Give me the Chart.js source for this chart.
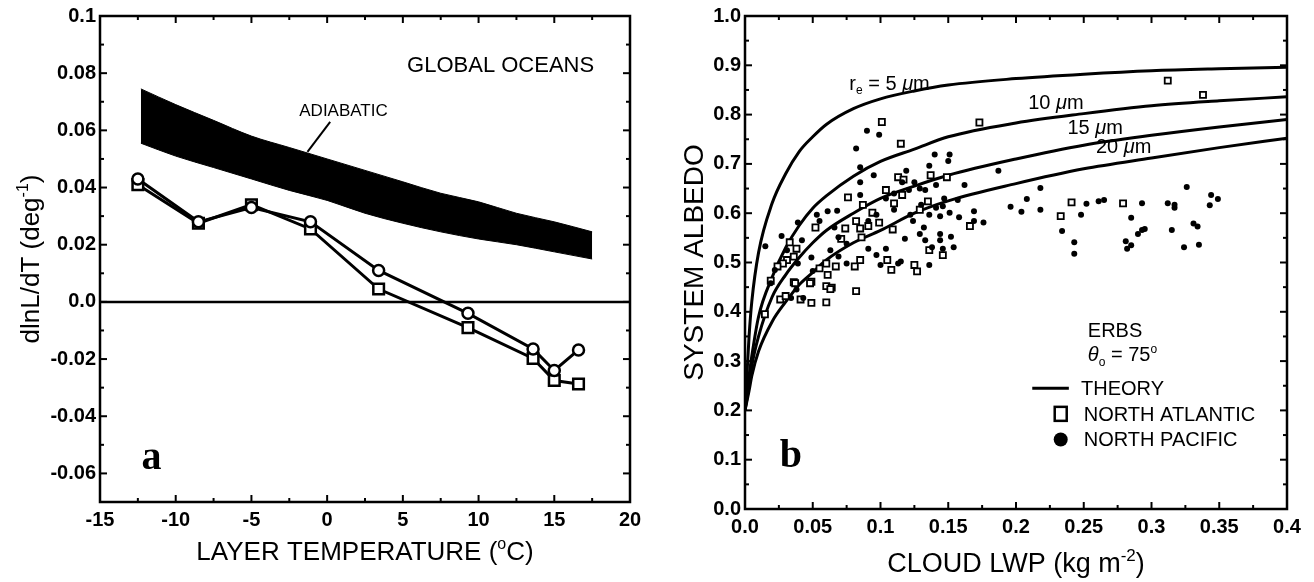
<!DOCTYPE html>
<html>
<head>
<meta charset="utf-8">
<script src="https://cdn.jsdelivr.net/npm/chart.js@4.4.0/dist/chart.umd.min.js"></script>
<style>
  html, body { margin: 0; padding: 0; background: #fff; }
  #wrap { position: relative; width: 1314px; height: 582px; overflow: hidden; }
  .panel { position: absolute; top: 0; width: 657px; height: 582px; }
</style>
</head>
<body>
<div id="wrap">
  <div class="panel" style="left:0"><canvas id="chartA" width="657" height="582"></canvas></div>
  <div class="panel" style="left:657px"><canvas id="chartB" width="657" height="582"></canvas></div>
</div>
<script>
// ---------- panel a : dlnL/dT vs layer temperature ----------
const tempPts     = [-12.5, -8.5, -5.0, -1.1, 3.4, 9.3, 13.6, 15.0, 16.6];
const dlnCircles  = [0.043, 0.028, 0.033, 0.028, 0.011, -0.004, -0.0165, -0.024, -0.0168];
const dlnSquares  = [0.041, 0.0275, 0.034, 0.0255, 0.0045, -0.009, -0.0198, -0.0275, -0.0287];

const adiabaticT     = [-12.3, -10, -7.5, -5, -2.5, 0, 2.5, 5, 7.5, 10, 12.5, 15, 17.5];
const adiabaticUpper = [0.0745, 0.069, 0.0635, 0.058, 0.054, 0.050, 0.046, 0.042, 0.038, 0.035, 0.031, 0.028, 0.0245];
const adiabaticLower = [0.0555, 0.051, 0.047, 0.043, 0.039, 0.0355, 0.031, 0.0275, 0.0245, 0.022, 0.020, 0.0175, 0.015];

const xTicksA      = [-15, -10, -5, 0, 5, 10, 15, 20];
const xMinorA      = [-12.5, -7.5, -2.5, 2.5, 7.5, 12.5, 17.5];
const yTicksA      = [-0.06, -0.04, -0.02, 0, 0.02, 0.04, 0.06, 0.08, 0.1];
const yTickLabelsA = ['-0.06', '-0.04', '-0.02', '0.0', '0.02', '0.04', '0.06', '0.08', '0.1'];
const yMinorA      = [-0.05, -0.03, -0.01, 0.01, 0.03, 0.05, 0.07, 0.09];

// ---------- panel b : system albedo vs cloud LWP ----------
const lwpTheory = [0, 0.003, 0.005, 0.01, 0.02, 0.03, 0.04, 0.05, 0.06, 0.08, 0.1, 0.125, 0.15, 0.2, 0.25, 0.3, 0.35, 0.4];
const albedoR5  = [0.2, 0.35, 0.42, 0.52, 0.62, 0.68, 0.725, 0.755, 0.78, 0.812, 0.832, 0.848, 0.86, 0.873, 0.882, 0.889, 0.893, 0.896];
const albedoR10 = [0.2, 0.27, 0.31, 0.39, 0.47, 0.53, 0.575, 0.61, 0.635, 0.675, 0.705, 0.73, 0.755, 0.783, 0.802, 0.818, 0.828, 0.836];
const albedoR15 = [0.2, 0.25, 0.29, 0.35, 0.43, 0.475, 0.51, 0.54, 0.565, 0.60, 0.63, 0.655, 0.677, 0.71, 0.738, 0.758, 0.775, 0.79];
const albedoR20 = [0.2, 0.24, 0.27, 0.32, 0.38, 0.42, 0.455, 0.48, 0.505, 0.54, 0.565, 0.60, 0.625, 0.66, 0.69, 0.712, 0.733, 0.752];

const atlanticLwp = [0.312, 0.338, 0.101, 0.173, 0.115, 0.076, 0.104, 0.113, 0.117, 0.137, 0.149, 0.087, 0.094, 0.110, 0.116,
  0.129, 0.135, 0.052, 0.074, 0.082, 0.085, 0.091, 0.099, 0.109, 0.071, 0.086, 0.033, 0.038, 0.036, 0.031, 0.028, 0.024,
  0.019, 0.055, 0.060, 0.067, 0.081, 0.085, 0.049, 0.061, 0.060, 0.064, 0.036, 0.105, 0.108, 0.125, 0.127, 0.136, 0.146,
  0.166, 0.233, 0.241, 0.279, 0.082, 0.0147, 0.026, 0.049, 0.060, 0.063, 0.037, 0.048, 0.041, 0.030];
const atlanticAlbedo = [0.869, 0.840, 0.785, 0.784, 0.741, 0.632, 0.647, 0.673, 0.668, 0.677, 0.673, 0.617, 0.601, 0.620, 0.637,
  0.607, 0.624, 0.571, 0.569, 0.584, 0.569, 0.574, 0.581, 0.567, 0.548, 0.551, 0.541, 0.528, 0.512, 0.505, 0.498, 0.492,
  0.463, 0.488, 0.498, 0.492, 0.492, 0.505, 0.461, 0.475, 0.452, 0.449, 0.460, 0.505, 0.485, 0.495, 0.482, 0.525, 0.515,
  0.574, 0.594, 0.622, 0.620, 0.442, 0.395, 0.425, 0.418, 0.419, 0.446, 0.458, 0.458, 0.425, 0.432];

const pacificLwp = [0.015, 0.082, 0.090, 0.099, 0.085, 0.085, 0.095, 0.119, 0.140, 0.151, 0.150, 0.162, 0.187, 0.218, 0.208,
  0.196, 0.204, 0.218, 0.136, 0.125, 0.129, 0.141, 0.133, 0.147, 0.157, 0.158, 0.169, 0.169, 0.176, 0.151, 0.144, 0.116,
  0.104, 0.097, 0.091, 0.068, 0.061, 0.055, 0.042, 0.049, 0.063, 0.066, 0.069, 0.075, 0.091, 0.097, 0.104, 0.115, 0.118,
  0.124, 0.129, 0.132, 0.133, 0.138, 0.144, 0.144, 0.146, 0.152, 0.154, 0.100, 0.113, 0.136, 0.234, 0.243, 0.243, 0.248,
  0.252, 0.261, 0.265, 0.281, 0.282, 0.285, 0.285, 0.290, 0.293, 0.295, 0.293, 0.312, 0.317, 0.317, 0.315, 0.324, 0.326,
  0.331, 0.334, 0.335, 0.343, 0.344, 0.349, 0.027, 0.039, 0.053, 0.031, 0.039, 0.022, 0.050, 0.069, 0.075, 0.085, 0.110,
  0.121, 0.130, 0.146, 0.141, 0.136, 0.122, 0.110, 0.019, 0.034, 0.038, 0.043];
const pacificAlbedo = [0.533, 0.731, 0.767, 0.759, 0.693, 0.663, 0.677, 0.686, 0.719, 0.719, 0.706, 0.657, 0.686, 0.651, 0.629,
  0.613, 0.603, 0.607, 0.696, 0.663, 0.650, 0.657, 0.647, 0.630, 0.627, 0.592, 0.604, 0.584, 0.581, 0.601, 0.594, 0.663,
  0.630, 0.597, 0.584, 0.605, 0.604, 0.584, 0.545, 0.510, 0.525, 0.571, 0.551, 0.538, 0.528, 0.515, 0.528, 0.502, 0.548,
  0.584, 0.558, 0.571, 0.545, 0.531, 0.558, 0.545, 0.528, 0.552, 0.531, 0.495, 0.498, 0.495, 0.564, 0.541, 0.518, 0.597,
  0.619, 0.624, 0.627, 0.543, 0.528, 0.535, 0.591, 0.558, 0.566, 0.568, 0.620, 0.620, 0.617, 0.611, 0.566, 0.531, 0.653,
  0.579, 0.573, 0.536, 0.616, 0.637, 0.629, 0.554, 0.581, 0.597, 0.525, 0.498, 0.485, 0.483, 0.512, 0.498, 0.637, 0.640,
  0.647, 0.617, 0.614, 0.611, 0.597, 0.597, 0.607, 0.458, 0.428, 0.445, 0.428];

const xTicksB      = [0, 0.05, 0.1, 0.15, 0.2, 0.25, 0.3, 0.35, 0.4];
const xTickLabelsB = ['0.0', '0.05', '0.1', '0.15', '0.2', '0.25', '0.3', '0.35', '0.4'];
const xMinorB      = [0.025, 0.075, 0.125, 0.175, 0.225, 0.275, 0.325, 0.375];
const yTicksB      = [0, 0.1, 0.2, 0.3, 0.4, 0.5, 0.6, 0.7, 0.8, 0.9, 1.0];
const yTickLabelsB = ['0.0', '0.1', '0.2', '0.3', '0.4', '0.5', '0.6', '0.7', '0.8', '0.9', '1.0'];
const yMinorB      = [0.05, 0.15, 0.25, 0.35, 0.45, 0.55, 0.65, 0.75, 0.85, 0.95];


const FAM   = '"Liberation Sans", Arial, Helvetica, sans-serif';
const SERIF = '"Liberation Serif", "Times New Roman", serif';
Chart.defaults.font.family = FAM;
Chart.defaults.color = '#000';

const pts = (xs, ys) => xs.map((x, i) => ({ x, y: ys[i] }));

// texto con sub/superíndices: parts = [[texto, modo]], modo '' | 'sup' | 'sub' | 'it'
function richText(ctx, parts, x, y, size, align) {
    const fontFor = m => (m === 'it' ? 'italic ' : '') + Math.round(m === 'sup' || m === 'sub' ? size * 0.62 : size) + 'px ' + FAM;
    let w = 0;
    parts.forEach(([t, m]) => { ctx.font = fontFor(m); w += ctx.measureText(t).width; });
    let cx = align === 'center' ? x - w / 2 : x;
    ctx.textAlign = 'left';
    ctx.textBaseline = 'alphabetic';
    parts.forEach(([t, m]) => {
        ctx.font = fontFor(m);
        const dy = m === 'sup' ? -size * 0.42 : (m === 'sub' ? size * 0.22 : 0);
        ctx.fillText(t, cx, y + dy);
        cx += ctx.measureText(t).width;
    });
}

function line(ctx, x1, y1, x2, y2) {
    ctx.beginPath(); ctx.moveTo(x1, y1); ctx.lineTo(x2, y2); ctx.stroke();
}

// marco con marcas hacia adentro en los cuatro lados
const framePlugin = {
    id: 'frame',
    afterDraw(chart, args, opts) {
        const { ctx, chartArea: a, scales: { x, y } } = chart;
        ctx.save();
        ctx.strokeStyle = '#000';
        ctx.lineWidth = 2;
        const major = 7, minor = 4;
        opts.xMajor.forEach(v => { const p = x.getPixelForValue(v); line(ctx, p, a.bottom, p, a.bottom - major); line(ctx, p, a.top, p, a.top + major); });
        opts.xMinor.forEach(v => { const p = x.getPixelForValue(v); line(ctx, p, a.bottom, p, a.bottom - minor); line(ctx, p, a.top, p, a.top + minor); });
        opts.yMajor.forEach(v => { const p = y.getPixelForValue(v); line(ctx, a.left, p, a.left + major, p); line(ctx, a.right, p, a.right - major, p); });
        opts.yMinor.forEach(v => { const p = y.getPixelForValue(v); line(ctx, a.left, p, a.left + minor, p); line(ctx, a.right, p, a.right - minor, p); });
        ctx.lineWidth = 2.5;
        ctx.strokeRect(a.left, a.top, a.right - a.left, a.bottom - a.top);
        ctx.restore();
    }
};

function linearAxis(min, max, values, labels, fixSize, isX, pad) {
    return {
        type: 'linear', min, max,
        grid: { display: false, drawTicks: false },
        border: { display: false },
        afterBuildTicks: s => { s.ticks = values.map(v => ({ value: v })); },
        afterFit: s => { if (isX) s.height = fixSize; else s.width = fixSize; },
        ticks: {
            padding: pad,
            font: { size: 20, weight: 'bold' },
            maxRotation: 0, autoSkip: false,
            callback: (v) => { const i = values.findIndex(t => Math.abs(t - v) < 1e-9); return i >= 0 ? labels[i] : ''; }
        }
    };
}

// ---------------- chart a ----------------
const annotA = {
    id: 'annotA',
    beforeDatasetsDraw(chart) {
        const { ctx, chartArea: a, scales: { y } } = chart;
        ctx.save(); ctx.strokeStyle = '#000'; ctx.lineWidth = 2.5;
        const p0 = y.getPixelForValue(0);
        line(ctx, a.left, p0, a.right, p0);
        ctx.restore();
    },
    afterDraw(chart) {
        const { ctx, chartArea: a, scales: { x, y } } = chart;
        const px = v => x.getPixelForValue(v), py = v => y.getPixelForValue(v);
        ctx.save();
        ctx.fillStyle = '#000'; ctx.strokeStyle = '#000';
        ctx.textAlign = 'left'; ctx.textBaseline = 'alphabetic';
        ctx.font = '22px ' + FAM;
        ctx.fillText('GLOBAL OCEANS', px(5.28), py(0.0833) + 8);
        ctx.font = '17px ' + FAM;
        ctx.fillText('ADIABATIC', px(-1.84), py(0.067) + 6);
        ctx.lineWidth = 2;
        line(ctx, px(0.2), py(0.063), px(-1.3), py(0.0525));
        ctx.font = 'bold 40px ' + SERIF;
        ctx.fillText('a', px(-12.26), py(-0.0583));
        // títulos de ejes
        richText(ctx, [['LAYER TEMPERATURE (', ''], ['o', 'sup'], ['C)', '']], (a.left + a.right) / 2, 560, 26, 'center');
        ctx.translate(39, (a.top + a.bottom) / 2);
        ctx.rotate(-Math.PI / 2);
        richText(ctx, [['dlnL/dT (deg', ''], ['-1', 'sup'], [')', '']], 0, 0, 26, 'center');
        ctx.restore();
    }
};

new Chart(document.getElementById('chartA'), {
    type: 'line',
    data: {
        datasets: [
            { data: pts(tempPts, dlnCircles), borderColor: '#000', borderWidth: 3, pointStyle: 'circle', pointRadius: 5.5,
              pointBorderWidth: 2.5, pointBackgroundColor: '#fff', pointBorderColor: '#000', fill: false, tension: 0 },
            { data: pts(tempPts, dlnSquares), borderColor: '#000', borderWidth: 3, pointStyle: 'rect', pointRadius: 7.5,
              pointBorderWidth: 2.5, pointBackgroundColor: '#fff', pointBorderColor: '#000', fill: false, tension: 0 },
            { data: pts(adiabaticT, adiabaticUpper), borderColor: '#000', borderWidth: 1, pointRadius: 0,
              backgroundColor: '#000', fill: '+1', cubicInterpolationMode: 'monotone' },
            { data: pts(adiabaticT, adiabaticLower), borderColor: '#000', borderWidth: 1, pointRadius: 0,
              fill: false, cubicInterpolationMode: 'monotone' }
        ]
    },
    options: {
        responsive: false, animation: false,
        layout: { padding: { left: 0, right: 27, top: 14, bottom: 0 } },
        plugins: {
            legend: { display: false }, tooltip: { enabled: false },
            frame: { xMajor: xTicksA, xMinor: xMinorA, yMajor: yTicksA, yMinor: yMinorA }
        },
        scales: {
            x: linearAxis(-15, 20, xTicksA, xTicksA.map(String), 80, true, 6),
            y: linearAxis(-0.07, 0.1, yTicksA, yTickLabelsA, 100, false, 4)
        }
    },
    plugins: [framePlugin, annotA]
});

// ---------------- chart b ----------------
const annotB = {
    id: 'annotB',
    afterDraw(chart) {
        const { ctx, chartArea: a, scales: { x, y } } = chart;
        const px = v => x.getPixelForValue(v), py = v => y.getPixelForValue(v);
        ctx.save();
        ctx.fillStyle = '#000'; ctx.strokeStyle = '#000';
        // etiquetas de curvas
        richText(ctx, [['r', ''], ['e', 'sub'], [' = 5 ', ''], ['\u03bc', 'it'], ['m', '']], px(0.077), py(0.865) + 7, 20, 'left');
        richText(ctx, [['10 ', ''], ['\u03bc', 'it'], ['m', '']], px(0.209), py(0.825) + 7, 20, 'left');
        richText(ctx, [['15 ', ''], ['\u03bc', 'it'], ['m', '']], px(0.238), py(0.774) + 7, 20, 'left');
        richText(ctx, [['20 ', ''], ['\u03bc', 'it'], ['m', '']], px(0.259), py(0.736) + 7, 20, 'left');
        // ERBS y ángulo
        richText(ctx, [['ERBS', '']], px(0.253), py(0.364) + 7, 20, 'left');
        richText(ctx, [['\u03b8', 'it'], ['o', 'sub'], [' = 75', ''], ['o', 'sup']], px(0.253), py(0.314) + 7, 20, 'left');
        // leyenda
        ctx.lineWidth = 3;
        line(ctx, px(0.212), py(0.245), px(0.239), py(0.245));
        ctx.lineWidth = 2.5;
        ctx.strokeRect(px(0.233) - 6, py(0.193) - 7, 12, 14);
        ctx.beginPath(); ctx.arc(px(0.233), py(0.141), 7, 0, Math.PI * 2); ctx.fill();
        richText(ctx, [['THEORY', '']], px(0.248), py(0.245) + 7, 20, 'left');
        richText(ctx, [['NORTH ATLANTIC', '']], px(0.250), py(0.193) + 7, 20, 'left');
        richText(ctx, [['NORTH PACIFIC', '']], px(0.250), py(0.141) + 7, 20, 'left');
        ctx.font = 'bold 40px ' + SERIF;
        ctx.textAlign = 'left';
        ctx.fillText('b', px(0.0257), py(0.086));
        // títulos de ejes
        richText(ctx, [['CLOUD LWP (kg m', ''], ['-2', 'sup'], [')', '']], (a.left + a.right) / 2, 572, 27, 'center');
        ctx.translate(46, (a.top + a.bottom) / 2);
        ctx.rotate(-Math.PI / 2);
        richText(ctx, [['SYSTEM ALBEDO', '']], 0, 0, 28, 'center');
        ctx.restore();
    }
};

const theory = (ys) => ({ data: pts(lwpTheory, ys), borderColor: '#000', borderWidth: 3, pointRadius: 0,
    fill: false, cubicInterpolationMode: 'monotone' });

new Chart(document.getElementById('chartB'), {
    type: 'line',
    data: {
        datasets: [
            { data: pts(pacificLwp, pacificAlbedo), showLine: false, pointStyle: 'circle', pointRadius: 3,
              pointBackgroundColor: '#000', pointBorderColor: '#000', pointBorderWidth: 0 },
            { data: pts(atlanticLwp, atlanticAlbedo), showLine: false, pointStyle: 'rect', pointRadius: 4.3,
              pointBackgroundColor: '#fff', pointBorderColor: '#000', pointBorderWidth: 1.8 },
            theory(albedoR5), theory(albedoR10), theory(albedoR15), theory(albedoR20)
        ]
    },
    options: {
        responsive: false, animation: false,
        layout: { padding: { left: 0, right: 27, top: 11, bottom: 0 } },
        plugins: {
            legend: { display: false }, tooltip: { enabled: false },
            frame: { xMajor: xTicksB, xMinor: xMinorB, yMajor: yTicksB, yMinor: yMinorB }
        },
        scales: {
            x: linearAxis(0, 0.4, xTicksB, xTickLabelsB, 73, true, 6),
            y: linearAxis(0, 1, yTicksB, yTickLabelsB, 88, false, 4)
        }
    },
    plugins: [framePlugin, annotB]
});
</script>
</body>
</html>
